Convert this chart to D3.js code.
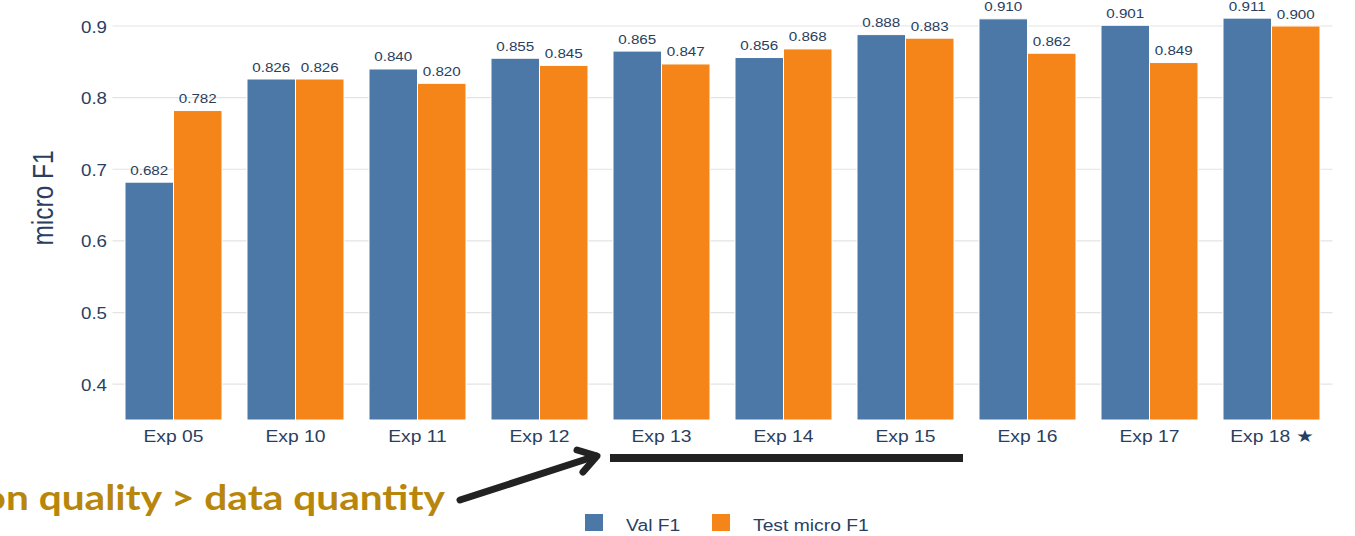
<!DOCTYPE html>
<html>
<head>
<meta charset="utf-8">
<script src="https://cdn.jsdelivr.net/npm/d3@7"></script>
<style>
  body { margin: 0; background: #fff; }
  svg { display: block; font-family: "Liberation Sans", Arial, sans-serif; }
</style>
</head>
<body>
<div id="chart"></div>
<script>
const experiments = ["Exp 05", "Exp 10", "Exp 11", "Exp 12", "Exp 13", "Exp 14", "Exp 15", "Exp 16", "Exp 17", "Exp 18 \u2605"];
const valF1 = [0.682, 0.826, 0.840, 0.855, 0.865, 0.856, 0.888, 0.910, 0.901, 0.911];
const testF1 = [0.782, 0.826, 0.820, 0.845, 0.847, 0.868, 0.883, 0.862, 0.849, 0.900];
const yTicks = [0.4, 0.5, 0.6, 0.7, 0.8, 0.9];
const seriesNames = ["Val F1", "Test micro F1"];
const colors = ["#4c78a8", "#f58518"];

const width = 1355, height = 536;
const textColor = "#2a3f5f";
const sx = 1.17; // the picture is a bit wider than tall, text stretched sideways

const svg = d3.select("#chart").append("svg")
  .attr("width", width)
  .attr("height", height);

// plot area
const x = d3.scaleBand().domain(experiments).range([112.5, 1332.5]).paddingInner(0.205).paddingOuter(0.1025);
const xSub = d3.scaleBand().domain(seriesNames).range([0, x.bandwidth()]);
const y = d3.scaleLinear().domain([0.35, 0.9]).range([420, 26]);

// gridlines
svg.append("g")
  .selectAll("line")
  .data(yTicks)
  .join("line")
  .attr("x1", 112.5)
  .attr("x2", 1332.5)
  .attr("y1", (d) => y(d))
  .attr("y2", (d) => y(d))
  .attr("stroke", "#e3e3e3")
  .attr("stroke-width", 1.2);

// y tick labels
svg.append("g")
  .selectAll("text")
  .data(yTicks)
  .join("text")
  .attr("transform", (d) => `translate(107,${y(d) + 6.5}) scale(${sx},1)`)
  .attr("text-anchor", "end")
  .attr("fill", textColor)
  .style("font-size", "16px")
  .text((d) => d.toFixed(1));

// y title
svg.append("text")
  .attr("transform", `translate(52.5, 198) scale(${sx},1) rotate(-90)`)
  .attr("text-anchor", "middle")
  .attr("fill", textColor)
  .style("font-size", "24.5px")
  .text("micro F1");

// bars
const groups = svg.append("g")
  .selectAll("g")
  .data(experiments)
  .join("g")
  .attr("transform", (d) => `translate(${x(d)},0)`);

const barData = (d, i) => [
  { key: seriesNames[0], value: valF1[i] },
  { key: seriesNames[1], value: testF1[i] },
];

groups.selectAll("rect")
  .data(barData)
  .join("rect")
  .attr("x", (d) => xSub(d.key))
  .attr("y", (d) => y(d.value))
  .attr("width", xSub.bandwidth())
  .attr("height", (d) => y(0.35) - y(d.value))
  .attr("fill", (d, j) => colors[j])
  .attr("stroke", "#fff")
  .attr("stroke-width", 1);

groups.selectAll("text")
  .data(barData)
  .join("text")
  .attr("transform", (d) => `translate(${xSub(d.key) + xSub.bandwidth() / 2},${y(d.value) - 7.5}) scale(${sx},1)`)
  .attr("text-anchor", "middle")
  .attr("fill", textColor)
  .style("font-size", "13px")
  .text((d) => d.value.toFixed(3));

// x labels
svg.append("g")
  .selectAll("text")
  .data(experiments)
  .join("text")
  .attr("transform", (d) => `translate(${x(d) + x.bandwidth() / 2},442) scale(${sx},1)`)
  .attr("text-anchor", "middle")
  .attr("fill", textColor)
  .style("font-size", "16.5px")
  .text((d) => d);

// legend
const legend = svg.append("g").attr("transform", "translate(585, 514)");
const legendX = [0, 127];
seriesNames.forEach((name, i) => {
  legend.append("rect")
    .attr("x", legendX[i])
    .attr("y", 0)
    .attr("width", 18)
    .attr("height", 17)
    .attr("fill", colors[i]);
  legend.append("text")
    .attr("transform", `translate(${legendX[i] + 41},17) scale(${sx},1)`)
    .attr("fill", textColor)
    .style("font-size", "16.5px")
    .text(name);
});

// annotation: bracket line under Exp 13 - Exp 15 and arrow
svg.append("line")
  .attr("x1", 610)
  .attr("x2", 963)
  .attr("y1", 458)
  .attr("y2", 458)
  .attr("stroke", "#222")
  .attr("stroke-width", 8);

svg.append("line")
  .attr("x1", 460)
  .attr("y1", 500)
  .attr("x2", 596)
  .attr("y2", 456)
  .attr("stroke", "#222")
  .attr("stroke-width", 7)
  .attr("stroke-linecap", "round");

svg.append("polyline")
  .attr("points", "577,450 597,456 583,472")
  .attr("fill", "none")
  .attr("stroke", "#222")
  .attr("stroke-width", 7)
  .attr("stroke-linecap", "round")
  .attr("stroke-linejoin", "round");

// text runs off the left edge, as in the original picture
svg.append("text")
  .attr("transform", `translate(445,510) scale(1.16,1)`)
  .attr("text-anchor", "end")
  .attr("fill", "#b8860b")
  .style("font-family", "Lato, 'Open Sans', sans-serif")
  .style("font-weight", "bold")
  .style("font-size", "35px")
  .text("Annotation quality > data quantity");
</script>
</body>
</html>
